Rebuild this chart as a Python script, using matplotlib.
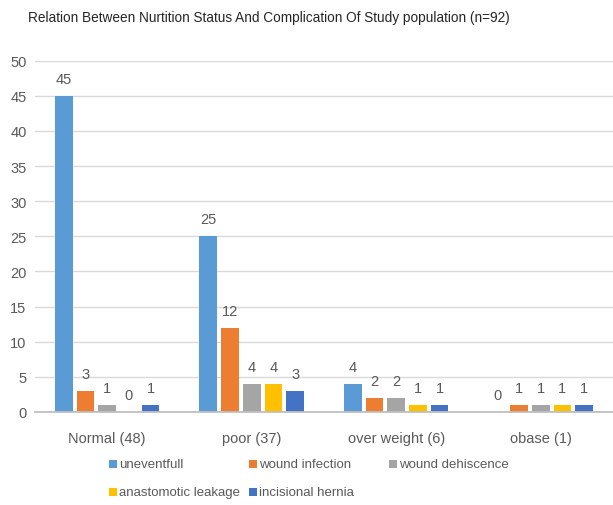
import numpy as np
import matplotlib.pyplot as plt
from matplotlib.patches import Rectangle

categories = ['Normal (48)', 'poor (37)', 'over weight (6)', 'obase (1)']
series = ['uneventfull', 'wound infection', 'wound dehiscence',
          'anastomotic leakage', 'incisional hernia']
uneventfull = [45, 25, 4, 0]
wound_infection = [3, 12, 2, 1]
wound_dehiscence = [1, 4, 2, 1]
anastomotic_leakage = [0, 4, 1, 1]
incisional_hernia = [1, 3, 1, 1]
values = [uneventfull, wound_infection, wound_dehiscence,
          anastomotic_leakage, incisional_hernia]
colors = ['#5B9BD5', '#ED7D31', '#A5A5A5', '#FFC000', '#4472C4']

plt.rcParams['font.family'] = ['Liberation Sans Narrow', 'Liberation Sans', 'DejaVu Sans']
txt = '#595959'
W, H = 613, 506

fig = plt.figure(figsize=(6.13, 5.06), dpi=100)
ax = fig.add_axes([0.057, 0.184, 0.943, 0.694])

x = np.arange(len(categories))
step = 0.15
width = 0.123
for i, (name, vals) in enumerate(zip(series, values)):
    pos = x + (i - 2) * step
    ax.bar(pos, vals, width, color=colors[i], label=name, zorder=3)
    for p, v in zip(pos, vals):
        ax.text(p, v + 1.4, str(v), ha='center', va='bottom',
                fontsize=10.5, color=txt)

ax.set_xlim(-0.5, 3.5)
ax.set_ylim(0, 50)
ax.set_yticks(range(0, 51, 5))
ax.set_xticks(x)
ax.set_xticklabels(categories)
ax.tick_params(axis='both', length=0, labelsize=10.5, colors=txt)
ax.tick_params(axis='y', pad=6)
ax.tick_params(axis='x', pad=14)
ax.yaxis.grid(True, color='#D9D9D9', linewidth=1, zorder=0)
for s in ['top', 'right', 'left']:
    ax.spines[s].set_visible(False)
ax.spines['bottom'].set_color('#BFBFBF')
ax.spines['bottom'].set_linewidth(1.3)
ax.spines['bottom'].set_zorder(4)

fig.text(28 / W, 1 - 18 / H,
         'Relation Between Nurtition Status And Complication Of Study population (n=92)',
         fontsize=9.8, color='#262626', ha='left', va='center')

# legend laid out like Excel: three slots per row, two rows
slots = [(113, 465), (253, 465), (393, 465), (113, 493), (253, 493)]
sq = 8
for (px, py), name, c in zip(slots, series, colors):
    fig.patches.append(Rectangle(((px - sq / 2) / W, 1 - (py + sq / 2) / H),
                                 sq / W, sq / H, transform=fig.transFigure,
                                 facecolor=c, edgecolor='none'))
    fig.text((px + sq / 2 + 2) / W, 1 - py / H, name, fontsize=9.5,
             color=txt, ha='left', va='center')

fig.savefig('out.png', dpi=100)
